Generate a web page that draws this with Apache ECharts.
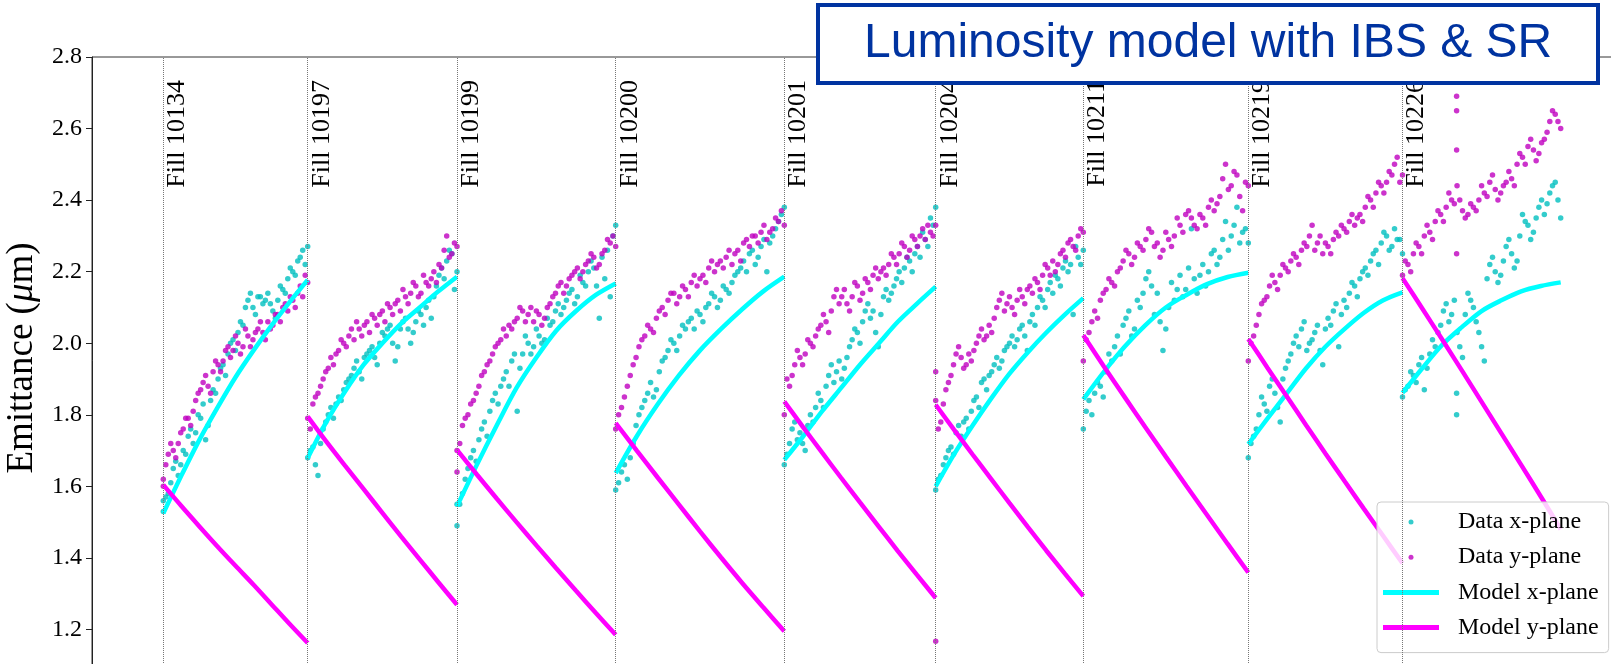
<!DOCTYPE html>
<html><head><meta charset="utf-8">
<script src="https://cdn.jsdelivr.net/npm/echarts@6/dist/echarts.min.js"></script>
<style>html,body{margin:0;padding:0;background:#fff}#c{width:1611px;height:664px}</style>
</head><body><div id="c"></div>
<script>
// ---- fills and their time spans (hours, cumulative) ----
const fills = ['10134','10197','10199','10200','10201','10204','10211','10219','10226'];
const fillStart = [7.13, 21.57, 36.50, 52.37, 69.23, 84.37, 99.13, 115.63, 131.05];
const fillEnd   = [21.57, 36.50, 52.37, 69.23, 84.37, 99.13, 115.63, 131.05, 146.87];
const yTicks = [1.0, 1.2, 1.4, 1.6, 1.8, 2.0, 2.2, 2.4, 2.6, 2.8];

// ---- model curves (evenly spaced over each fill) ----
const modelX_10134 = [1.525,1.63,1.73,1.82,1.905,1.98,2.05,2.115,2.177];
const modelX_10197 = [1.679,1.78,1.865,1.94,2.00,2.055,2.10,2.145,2.186];
const modelX_10199 = [1.544,1.66,1.77,1.875,1.96,2.035,2.09,2.135,2.167];
const modelX_10200 = [1.637,1.74,1.83,1.91,1.98,2.04,2.095,2.145,2.186];
const modelX_10201 = [1.674,1.74,1.81,1.875,1.94,2.00,2.06,2.11,2.158];
const modelX_10204 = [1.60,1.69,1.77,1.845,1.915,1.975,2.03,2.08,2.126];
const modelX_10211 = [1.843,1.92,1.99,2.05,2.10,2.135,2.165,2.185,2.197];
const modelX_10219 = [1.718,1.79,1.86,1.93,1.99,2.04,2.085,2.12,2.142];
const modelX_10226 = [1.861,1.93,1.995,2.045,2.09,2.12,2.145,2.16,2.17];

const modelY_10134 = [1.604,1.545,1.488,1.432,1.378,1.325,1.27,1.215,1.162];
const modelY_10197 = [1.795,1.725,1.658,1.592,1.526,1.460,1.396,1.332,1.269];
const modelY_10199 = [1.702,1.633,1.566,1.50,1.435,1.371,1.308,1.246,1.185];
const modelY_10200 = [1.777,1.700,1.624,1.549,1.474,1.401,1.330,1.262,1.195];
const modelY_10201 = [1.837,1.765,1.694,1.624,1.555,1.487,1.419,1.353,1.288];
const modelY_10204 = [1.828,1.758,1.689,1.621,1.553,1.486,1.420,1.356,1.293];
const modelY_10211 = [2.022,1.935,1.850,1.766,1.683,1.601,1.520,1.439,1.359];
const modelY_10219 = [2.012,1.931,1.851,1.771,1.692,1.614,1.537,1.461,1.385];
const modelY_10226 = [2.182,2.097,2.011,1.924,1.836,1.748,1.66,1.571,1.48];

// ---- measured emittance, x-plane (two interleaved passes per fill) ----
const dataX_10134 = [1.53,1.58,1.65,1.63,1.70,1.74,1.72,1.80,1.83,1.77,1.87,1.90,1.94,1.97,2.01,2.03,2.05,2.12,2.10,2.13,2.11,2.14,2.09,2.12,2.15,2.18,2.20,2.23,2.26,2.27];
const dataX_10197 = [1.68,1.71,1.63,1.76,1.80,1.79,1.85,1.87,1.90,1.93,1.92,1.96,1.98,1.96,2.00,2.02,2.05,1.95,2.04,2.07,2.00,2.06,2.08,2.10,2.07,2.16,2.21,2.23,2.25,2.20];
const dataX_10199 = [1.49,1.58,1.65,1.70,1.73,1.78,1.81,1.86,1.88,1.92,1.95,1.81,1.97,2.00,1.99,2.02,2.01,2.05,2.09,2.08,2.12,2.15,2.13,2.17,2.20,2.21,2.07,2.18,2.13,2.33];
const dataX_10200 = [1.59,1.64,1.62,1.72,1.80,1.84,1.89,1.87,1.95,1.98,2.00,2.02,2.04,2.07,2.09,2.06,2.11,2.13,2.12,2.15,2.17,2.20,2.23,2.25,2.22,2.27,2.20,2.30,2.34,2.38];
const dataX_10201 = [1.66,1.72,1.78,1.75,1.70,1.80,1.82,1.84,1.88,1.94,1.92,1.90,1.96,2.01,2.03,2.06,2.11,2.09,1.99,2.13,2.12,2.16,2.20,2.21,2.23,2.25,2.24,2.29,2.35,2.38];
const dataX_10204 = [1.59,1.63,1.68,1.71,1.75,1.74,1.79,1.81,1.85,1.89,1.87,1.92,1.96,1.95,1.99,2.02,2.01,2.05,1.98,2.08,2.10,2.12,2.15,2.14,2.18,2.21,2.20,2.08,2.24,2.26];
const dataX_10211 = [1.76,1.84,1.86,1.88,1.92,1.95,2.02,2.05,2.09,2.04,2.10,2.18,2.16,2.14,1.98,2.10,2.12,2.19,2.15,2.32,2.14,2.22,2.20,2.26,2.24,2.34,2.30,2.38,2.31,2.28];
const dataX_10219 = [1.68,1.74,1.80,1.83,1.88,1.86,1.78,1.93,1.97,2.02,2.04,1.98,2.01,2.05,1.94,2.07,2.09,1.99,2.12,2.14,2.16,2.18,2.21,2.23,2.26,2.28,2.30,2.27,2.29,2.25];
const dataX_10226 = [1.85,1.88,1.91,1.94,1.87,1.97,1.99,2.05,2.11,2.08,2.03,1.96,2.14,2.10,2.03,1.95,2.22,2.20,2.19,2.27,2.25,2.23,2.36,2.33,2.31,2.38,2.36,2.42,2.45,2.35];

const dataX2_10134 = [1.57,1.61,1.67,1.66,1.69,1.76,1.75,1.79,1.73,1.84,1.86,1.93,1.91,2.00,1.98,2.06,2.10,2.14,2.08,2.13,2.12,2.11,2.07,2.16,2.14,2.21,2.19,2.24,2.22];
const dataX2_10197 = [1.70,1.66,1.72,1.78,1.82,1.83,1.84,1.89,1.91,1.95,1.90,1.97,1.99,1.94,2.03,2.04,2.00,1.99,2.06,2.04,2.03,2.09,2.05,2.12,2.13,2.19,2.18,2.26,2.15];
const dataX2_10199 = [1.55,1.62,1.68,1.67,1.76,1.74,1.84,1.83,1.90,1.88,1.97,1.93,2.02,1.97,2.04,2.00,2.07,2.06,2.11,2.10,2.14,2.11,2.19,2.16,2.23,2.16,2.24,2.26,2.30];
const dataX2_10200 = [1.61,1.66,1.68,1.77,1.82,1.86,1.85,1.92,1.96,2.01,1.98,2.05,2.06,2.04,2.08,2.10,2.14,2.10,2.16,2.14,2.19,2.21,2.20,2.26,2.24,2.29,2.28,2.32,2.36];
const dataX2_10201 = [1.69,1.76,1.73,1.72,1.77,1.78,1.86,1.82,1.91,1.89,1.95,1.93,1.99,2.04,2.00,2.09,2.07,2.03,2.08,2.15,2.14,2.18,2.17,2.24,2.20,2.27,2.31,2.27,2.33];
const dataX2_10204 = [1.62,1.66,1.70,1.69,1.77,1.78,1.76,1.84,1.82,1.90,1.91,1.94,1.93,1.98,2.00,1.99,2.04,2.02,2.06,2.05,2.13,2.10,2.17,2.19,2.16,2.23,2.22,2.27,2.22];
const dataX2_10211 = [1.81,1.80,1.89,1.85,1.97,1.99,1.97,2.07,2.02,2.12,2.14,2.20,2.08,2.06,2.04,2.17,2.15,2.13,2.21,2.18,2.19,2.16,2.25,2.22,2.29,2.26,2.33,2.28,2.32];
const dataX2_10219 = [1.72,1.76,1.85,1.81,1.90,1.82,1.90,1.95,2.00,1.99,2.06,2.00,2.03,1.98,2.04,2.05,2.11,2.08,2.10,2.17,2.13,2.20,2.19,2.25,2.22,2.31,2.26,2.32,2.29];
const dataX2_10226 = [1.87,1.92,1.89,1.96,1.93,2.01,2.03,2.09,2.06,2.12,1.99,2.08,2.12,2.06,1.99,2.18,2.24,2.17,2.23,2.29,2.21,2.30,2.34,2.29,2.35,2.40,2.39,2.44,2.40];

// ---- measured emittance, y-plane (two interleaved passes per fill) ----
const dataY_10134 = [1.62,1.69,1.70,1.72,1.76,1.79,1.81,1.86,1.89,1.88,1.92,1.94,1.95,1.99,1.98,2.00,1.99,2.02,2.01,2.04,2.03,2.06,2.05,2.08,2.10,2.09,2.12,2.14,2.13,2.17];
const dataY_10197 = [1.79,1.83,1.86,1.90,1.93,1.94,1.98,2.00,2.02,2.01,2.04,2.05,2.03,2.07,2.08,2.06,2.10,2.11,2.09,2.13,2.14,2.16,2.14,2.17,2.18,2.17,2.21,2.30,2.25,2.27];
const dataY_10199 = [1.64,1.77,1.80,1.84,1.88,1.92,1.95,1.99,2.01,2.02,2.04,2.07,2.09,2.08,2.06,2.08,2.07,2.11,2.14,2.17,2.16,2.19,2.21,2.20,2.23,2.24,2.22,2.26,2.28,2.27];
const dataY_10200 = [1.76,1.82,1.88,1.94,1.99,2.02,2.04,2.07,2.10,2.12,2.14,2.13,2.15,2.17,2.16,2.19,2.21,2.20,2.23,2.24,2.22,2.26,2.28,2.27,2.30,2.31,2.29,2.32,2.34,2.33];
const dataY_10201 = [1.80,1.88,1.94,1.96,1.97,2.00,2.02,2.05,2.06,2.09,2.15,2.13,2.11,2.13,2.16,2.14,2.17,2.19,2.18,2.21,2.22,2.24,2.25,2.27,2.26,2.29,2.30,2.29,2.31,2.33];
const dataY_10204 = [1.84,1.78,1.87,1.91,1.97,1.96,1.94,1.95,2.00,2.04,2.02,2.03,2.10,2.14,2.11,2.10,2.12,2.13,2.15,2.14,2.17,2.19,2.21,2.23,2.22,2.26,2.28,2.27,2.30,2.31];
const dataY_10211 = [1.95,2.03,2.09,2.12,2.15,2.17,2.20,2.23,2.25,2.24,2.27,2.29,2.31,2.28,2.26,2.29,2.30,2.33,2.36,2.35,2.32,2.35,2.38,2.37,2.41,2.50,2.44,2.47,2.37,2.44];
const dataY_10219 = [1.95,2.02,2.08,2.12,2.16,2.17,2.19,2.21,2.23,2.24,2.26,2.27,2.33,2.28,2.25,2.27,2.29,2.30,2.32,2.34,2.33,2.36,2.38,2.40,2.42,2.44,2.45,2.47,2.52,2.47];
const dataY_10226 = [2.19,2.22,2.25,2.27,2.30,2.31,2.34,2.36,2.38,2.40,2.44,2.37,2.36,2.38,2.40,2.42,2.45,2.43,2.42,2.45,2.46,2.50,2.52,2.55,2.54,2.53,2.57,2.62,2.64,2.60];

const dataY2_10134 = [1.66,1.72,1.68,1.75,1.79,1.77,1.84,1.87,1.91,1.86,1.95,1.92,1.98,1.96,2.02,1.97,2.04,1.99,2.03,2.06,2.01,2.04,2.08,2.06,2.11,2.13,2.10,2.16,2.19];
const dataY2_10197 = [1.76,1.85,1.88,1.92,1.96,1.97,2.01,1.99,2.04,2.06,2.02,2.06,2.08,2.05,2.09,2.11,2.08,2.12,2.15,2.11,2.17,2.13,2.19,2.16,2.20,2.22,2.26,2.24,2.28];
const dataY2_10199 = [1.72,1.79,1.83,1.86,1.91,1.94,1.97,2.00,2.04,2.05,2.06,2.10,2.06,2.10,2.09,2.05,2.10,2.13,2.16,2.14,2.18,2.20,2.18,2.22,2.25,2.21,2.25,2.29,2.30];
const dataY2_10200 = [1.80,1.85,1.91,1.96,2.01,2.05,2.03,2.09,2.08,2.14,2.11,2.16,2.13,2.19,2.18,2.17,2.23,2.22,2.21,2.26,2.25,2.23,2.29,2.30,2.28,2.33,2.31,2.35,2.37];
const dataY2_10201 = [1.90,1.91,1.98,1.94,2.01,1.99,2.04,2.08,2.03,2.13,2.11,2.15,2.09,2.17,2.12,2.18,2.15,2.21,2.20,2.19,2.25,2.22,2.28,2.24,2.30,2.27,2.32,2.33,2.30];
const dataY2_10204 = [1.76,1.83,1.89,1.94,1.99,1.93,1.97,1.98,2.02,2.01,2.05,2.07,2.12,2.09,2.13,2.08,2.15,2.11,2.16,2.18,2.15,2.22,2.19,2.20,2.25,2.24,2.29,2.26,2.32];
const dataY2_10211 = [2.01,2.06,2.07,2.14,2.18,2.16,2.21,2.26,2.22,2.28,2.26,2.32,2.27,2.24,2.31,2.27,2.35,2.31,2.37,2.33,2.36,2.33,2.40,2.39,2.46,2.43,2.48,2.41,2.45];
const dataY2_10219 = [2.00,2.05,2.11,2.13,2.19,2.15,2.22,2.20,2.25,2.22,2.28,2.30,2.26,2.30,2.28,2.25,2.31,2.33,2.31,2.36,2.35,2.34,2.41,2.38,2.45,2.42,2.48,2.50,2.45];
const dataY2_10226 = [2.23,2.20,2.28,2.25,2.33,2.29,2.37,2.34,2.42,2.39,2.40,2.35,2.39,2.37,2.44,2.41,2.47,2.40,2.44,2.48,2.44,2.53,2.50,2.57,2.51,2.56,2.59,2.65,2.62];

// ---- isolated outliers: [fill index, fraction of fill, value] ----
const outliersX = [[0,0.0,1.56],[8,0.342,1.86],[8,0.342,1.80],[2,0.0,1.55]];
const outliersY = [[0,0.0,1.60],[5,0.0,1.167],[5,0.0,1.92],[8,0.342,2.69],[8,0.342,2.65],[8,0.342,2.54],[8,0.342,2.25],[2,0.0,1.70]];

const modelXs = [modelX_10134,modelX_10197,modelX_10199,modelX_10200,modelX_10201,modelX_10204,modelX_10211,modelX_10219,modelX_10226];
const modelYs = [modelY_10134,modelY_10197,modelY_10199,modelY_10200,modelY_10201,modelY_10204,modelY_10211,modelY_10219,modelY_10226];
const dataXs = [dataX_10134,dataX_10197,dataX_10199,dataX_10200,dataX_10201,dataX_10204,dataX_10211,dataX_10219,dataX_10226];
const dataYs = [dataY_10134,dataY_10197,dataY_10199,dataY_10200,dataY_10201,dataY_10204,dataY_10211,dataY_10219,dataY_10226];
const dataX2s = [dataX2_10134,dataX2_10197,dataX2_10199,dataX2_10200,dataX2_10201,dataX2_10204,dataX2_10211,dataX2_10219,dataX2_10226];
const dataY2s = [dataY2_10134,dataY2_10197,dataY2_10199,dataY2_10200,dataY2_10201,dataY2_10204,dataY2_10211,dataY2_10219,dataY2_10226];

function timeAt(i, f) { return fillStart[i] + (fillEnd[i] - fillStart[i]) * f; }
function toPts(vals, i) { const n = vals.length; return vals.map((v, k) => [timeAt(i, k / (n - 1)), v]); }
function toHalfPts(vals, i) { const n = vals.length; return vals.map((v, k) => [timeAt(i, (k + 0.5) / n), v]); }

const C_DX = '#00bfbf', C_DY = '#bf00bf', C_MX = '#00ffff', C_MY = '#ff00ff';
const serif = 'Liberation Serif, DejaVu Serif, serif';

let ptsX = [], ptsY = [];
dataXs.forEach((a, i) => { ptsX = ptsX.concat(toPts(a, i)); });
dataX2s.forEach((a, i) => { ptsX = ptsX.concat(toHalfPts(a, i)); });
dataYs.forEach((a, i) => { ptsY = ptsY.concat(toPts(a, i)); });
dataY2s.forEach((a, i) => { ptsY = ptsY.concat(toHalfPts(a, i)); });
outliersX.forEach(o => ptsX.push([timeAt(o[0], o[1]), o[2]]));
outliersY.forEach(o => ptsY.push([timeAt(o[0], o[1]), o[2]]));

const series = [];
series.push({
  name: 'Data x-plane', type: 'scatter', data: ptsX, symbolSize: 5.5,
  itemStyle: { color: C_DX }, z: 2,
  markLine: {
    silent: true, symbol: ['none', 'none'], animation: false,
    lineStyle: { color: '#777', width: 1, type: 'dotted' },
    label: { show: true, position: 'insideEndBottom', distance: [23, 1], color: '#000',
             fontFamily: serif, fontSize: 26 },
    emphasis: { disabled: true },
    data: fills.map((f, i) => ({ xAxis: fillStart[i], label: { formatter: 'Fill ' + f } }))
  }
});
series.push({ name: 'Data y-plane', type: 'scatter', data: ptsY, symbolSize: 5.5, itemStyle: { color: C_DY }, z: 2 });
modelXs.forEach((a, i) => series.push({
  name: 'Model x-plane', type: 'line', data: toPts(a, i), showSymbol: false, symbol: 'none',
  smooth: 0.3, lineStyle: { color: C_MX, width: 4.5 }, itemStyle: { color: C_MX }, z: 3
}));
modelYs.forEach((a, i) => series.push({
  name: 'Model y-plane', type: 'line', data: toPts(a, i), showSymbol: false, symbol: 'none',
  smooth: 0.3, lineStyle: { color: C_MY, width: 4.5 }, itemStyle: { color: C_MY }, z: 3
}));

const chart = echarts.init(document.getElementById('c'), null, { renderer: 'canvas' });
chart.setOption({
  animation: false,
  backgroundColor: '#fff',
  title: {
    text: 'Luminosity model with IBS & SR', left: 818, top: 5, padding: [15, 46],
    borderColor: '#0033a0', borderWidth: 4, backgroundColor: '#fff',
    textStyle: { fontFamily: 'Liberation Sans, Arial, sans-serif', fontSize: 48, fontWeight: 'normal', color: '#0033a0' }
  },
  legend: {
    orient: 'vertical', left: 1377, top: 502,
    itemWidth: 56, itemHeight: 5, itemGap: 11.2,
    padding: [8, 10, 13, 6],
    backgroundColor: 'rgba(255,255,255,0.8)', borderColor: '#ccc', borderWidth: 1, borderRadius: 4,
    textStyle: { fontFamily: serif, fontSize: 24, color: '#000', padding: [0, 0, 0, 14] },
    data: [
      { name: 'Data x-plane', icon: 'circle' },
      { name: 'Data y-plane', icon: 'circle' },
      { name: 'Model x-plane', icon: 'rect' },
      { name: 'Model y-plane', icon: 'rect' }
    ]
  },
  grid: { left: 92, top: 57, right: -2, bottom: -37, outerBoundsMode: 'none', containLabel: false,
          show: true, borderColor: '#333', borderWidth: 1, backgroundColor: 'transparent' },
  xAxis: { type: 'value', min: 0, max: 152.1, show: false },
  yAxis: {
    type: 'value', min: yTicks[0], max: yTicks[yTicks.length - 1], interval: 0.2,
    name: '{n|Emittance (}{i|μ}{n|m)}', nameLocation: 'middle', nameGap: 50,
    nameTextStyle: { padding: [0, 0, 0, 42],
      rich: { n: { fontFamily: serif, fontSize: 37, color: '#000' }, i: { fontFamily: serif, fontSize: 37, fontStyle: 'italic', color: '#000' } } },
    axisLine: { show: true, lineStyle: { color: '#222', width: 1 } },
    axisTick: { show: true, inside: false, length: 6, lineStyle: { color: '#222' } },
    axisLabel: { margin: 10, fontFamily: serif, fontSize: 24, color: '#000', formatter: v => v.toFixed(1) },
    splitLine: { show: false }
  },
  series: series
});
</script></body></html>
